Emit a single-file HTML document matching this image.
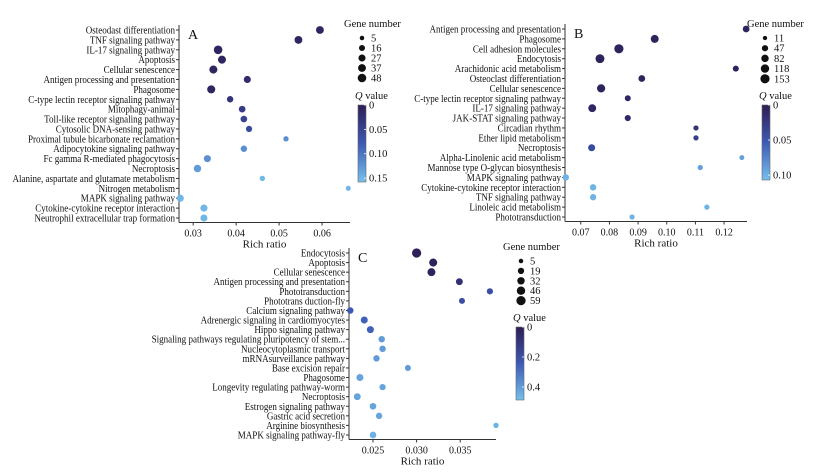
<!DOCTYPE html>
<html><head><meta charset="utf-8"><style>
body{margin:0;background:#fff}
svg{display:block}
text{font-family:"Liberation Serif",serif;fill:#111}
</style></head><body>
<svg id="fig" width="819" height="472" viewBox="0 0 819 472" xmlns="http://www.w3.org/2000/svg">
<defs>
<linearGradient id="qg" x1="0" y1="0" x2="0" y2="1">
<stop offset="0" stop-color="#2e1d55"/><stop offset="0.5" stop-color="#3d5ab4"/><stop offset="1" stop-color="#76c0ec"/>
</linearGradient>
</defs>
</svg>
<script>
// Panel A data
const catsA=["Osteodast differentiation","TNF signaling pathway","IL-17 signaling pathway","Apoptosis","Cellular senescence","Antigen processing and presentation","Phagosome","C-type lectin receptor signaling pathway","Mitophagy-animal","Toll-like receptor signaling pathway","Cytosolic DNA-sensing pathway","Proximal tubule bicarbonate reclamation","Adipocytokine signaling pathway","Fc gamma R-mediated phagocytosis","Necroptosis","Alanine, aspartate and glutamate metabolism","Nitrogen metabolism","MAPK signaling pathway","Cytokine-cytokine receptor interaction","Neutrophil extracellular trap formation"];
const ratioA=[0.0595,0.0545,0.0358,0.0367,0.0347,0.0426,0.0342,0.0386,0.0414,0.0418,0.0430,0.0516,0.0418,0.0333,0.0310,0.0461,0.0661,0.0270,0.0325,0.0325];
const genesA=[37,37,48,40,40,27,40,20,22,22,18,10,20,27,32,10,8,27,27,27];
const qA=[0.01,0.01,0.01,0.01,0.01,0.02,0.01,0.03,0.04,0.05,0.06,0.12,0.12,0.12,0.13,0.15,0.15,0.15,0.15,0.15];
const ticksA=[0.03,0.04,0.05,0.06];
const legA=[5,16,27,37,48];
const qTicksA=[0,0.05,0.10,0.15];
// Panel B data
const catsB=["Antigen processing and presentation","Phagosome","Cell adhesion molecules","Endocytosis","Arachidonic acid metabolism","Osteoclast differentiation","Cellular senescence","C-type lectin receptor signaling pathway","IL-17 signaling pathway","JAK-STAT signaling pathway","Circadian rhythm","Ether lipid metabolism","Necroptosis","Alpha-Linolenic acid metabolism","Mannose type O-glycan biosynthesis","MAPK signaling pathway","Cytokine-cytokine receptor interaction","TNF signaling pathway","Linoleic acid metabolism","Phototransduction"];
const ratioB=[0.1277,0.0958,0.0833,0.0767,0.1241,0.0913,0.0771,0.0864,0.0740,0.0864,0.1102,0.1102,0.0738,0.1262,0.1117,0.0648,0.0743,0.0743,0.1140,0.0879];
const genesB=[60,100,153,140,40,60,110,40,100,45,25,25,70,20,25,50,50,50,25,25];
const qB=[0.005,0.005,0.005,0.005,0.005,0.005,0.005,0.008,0.008,0.01,0.02,0.03,0.04,0.09,0.09,0.10,0.10,0.10,0.10,0.10];
const ticksB=[0.07,0.08,0.09,0.10,0.11,0.12];
const legB=[11,47,82,118,153];
const qTicksB=[0,0.05,0.10];
// Panel C data
const catsC=["Endocytosis","Apoptosis","Cellular senescence","Antigen processing and presentation","Phototransduction","Phototrans duction-fly","Calcium signaling pathway","Adrenergic signaling in cardiomyocytes","Hippo signaling pathway","Signaling pathways regulating pluripotency of stem...","Nucleocytoplasmic transport","mRNAsurveillance pathway","Base excision repair","Phagosome","Longevity regulating pathway-worm","Necroptosis","Estrogen signaling pathway","Gastric acid secretion","Arginine biosynthesis","MAPK signaling pathway-fly"];
const ratioC=[0.0300,0.0319,0.0317,0.0349,0.0384,0.0352,0.0224,0.0240,0.0247,0.0260,0.0261,0.0254,0.0290,0.0235,0.0261,0.0232,0.0250,0.0257,0.0391,0.0250];
const genesC=[59,40,40,25,18,16,20,27,27,20,20,20,16,27,18,25,22,20,10,22];
const qC=[0.01,0.02,0.02,0.08,0.2,0.2,0.24,0.26,0.26,0.4,0.4,0.4,0.4,0.42,0.42,0.42,0.42,0.42,0.45,0.45];
const ticksC=[0.025,0.030,0.035];
const legC=[5,19,32,46,59];
const qTicksC=[0,0.2,0.4];

const NS="http://www.w3.org/2000/svg";
const svg=document.getElementById('fig');
function mk(tag,attrs,parent){const e=document.createElementNS(NS,tag);for(const k in attrs)e.setAttribute(k,attrs[k]);(parent||svg).appendChild(e);return e;}
function lerp(a,b,t){return a+(b-a)*t;}
function qColor(t){t=Math.max(0,Math.min(1,t));const s=[[46,29,85],[61,90,180],[118,192,236]];let a,b,u;if(t<0.5){a=s[0];b=s[1];u=t*2;}else{a=s[1];b=s[2];u=(t-0.5)*2;}return `rgb(${Math.round(lerp(a[0],b[0],u))},${Math.round(lerp(a[1],b[1],u))},${Math.round(lerp(a[2],b[2],u))})`;}

function panel(p){
  const g=mk('g',{});
  
  
  const xs=v=>p.x0+(v-p.v0)/(p.v1-p.v0)*(p.x1-p.x0);
  const ys=i=>p.y0+i*(p.y1-p.y0)/(p.cats.length-1);
  const ybot=p.y1+4.5;
  const rmax=p.rmax, nmax=p.nmax;
  const rs=n=>1.3+(rmax-1.3)*Math.sqrt(n/nmax);
  const ay=mk('line',{x1:p.x0,y1:p.y0-5,x2:p.x0,y2:ybot,stroke:'#333','stroke-width':1},g);
  
  const ax=mk('line',{x1:p.x0,y1:ybot,x2:p.x1,y2:ybot,stroke:'#333','stroke-width':1},g);
  
  p.cats.forEach((c,i)=>{
    const y=ys(i);
    mk('line',{x1:p.x0-3,y1:y,x2:p.x0,y2:y,stroke:'#333','stroke-width':1},g);
    const t=mk('text',{transform:`translate(${p.x0-4},${y+3.5}) scale(0.86,1)`,'text-anchor':'end','font-size':10.5},g);
    t.textContent=c;
    
    
  });
  p.ticks.forEach(v=>{
    const x=xs(v);
    mk('line',{x1:x,y1:ybot,x2:x,y2:ybot+3,stroke:'#333','stroke-width':1},g);
    const t=mk('text',{x:x,y:ybot+14,'text-anchor':'middle','font-size':10},g);
    t.textContent=p.tickFmt(v);
    
    
  });
  const xt=mk('text',{x:(p.x0+p.x1)/2,y:ybot+25,'text-anchor':'middle','font-size':11},g);
  xt.textContent='Rich ratio';
  
  
  const lt=mk('text',{x:p.x0+9,y:p.y0+9,'font-size':14},g);
  lt.textContent=p.id.toUpperCase();
  
  
  p.ratio.forEach((v,i)=>{
    const c=mk('circle',{cx:xs(v),cy:ys(i),r:rs(p.genes[i]),fill:qColor(p.q[i]/p.qmax)},g);
    
    
  });
  const gt=mk('text',{x:p.lx-18,y:p.ly-3,'font-size':10.5},g);
  gt.textContent='Gene number';
  
  
  p.leg.forEach((n,i)=>{
    const y=p.ly+8+i*p.lsp;
    const c=mk('circle',{cx:p.lx,cy:y,r:rs(n),fill:'#111'},g);
    
    
    const t=mk('text',{x:p.lx+9,y:y+3.5,'font-size':10.5},g);
    t.textContent=n;
    
    
  });
  const qt=mk('text',{x:p.cx-3,y:p.cy-6,'font-size':10.5},g);
  qt.innerHTML='<tspan font-style="italic">Q</tspan> value';
  
  
  const r=mk('rect',{x:p.cx,y:p.cy,width:8,height:p.ch,fill:'url(#qg)',stroke:'#666','stroke-width':0.6},g);
  
  
  p.qTicks.forEach(v=>{
    const y=p.cy+v/p.qmax*p.ch;
    mk('line',{x1:p.cx+6,y1:y,x2:p.cx+8,y2:y,stroke:'#fff','stroke-width':0.8},g);
    const t=mk('text',{x:p.cx+11,y:y+3.5,'font-size':10.5},g);
    t.textContent=p.qFmt(v);
    
    
  });
}
panel({id:'a',cats:catsA,ratio:ratioA,genes:genesA,q:qA,ticks:ticksA,leg:legA,qTicks:qTicksA,
  x0:179,x1:350,v0:0.0267,v1:0.0665,y0:30,y1:218,rmax:4.3,nmax:48,qmax:0.158,
  lx:362,ly:30,lsp:10,cx:358,cy:105,ch:77,
  tickFmt:v=>v.toFixed(2),qFmt:v=>v===0?'0':v.toFixed(2)});
panel({id:'b',cats:catsB,ratio:ratioB,genes:genesB,q:qB,ticks:ticksB,leg:legB,qTicks:qTicksB,
  x0:565,x1:747,v0:0.0645,v1:0.128,y0:29,y1:217,rmax:4.6,nmax:153,qmax:0.107,
  lx:765,ly:30,lsp:10.2,cx:762,cy:105,ch:75,
  tickFmt:v=>v.toFixed(2),qFmt:v=>v===0?'0':v.toFixed(2)});
panel({id:'c',cats:catsC,ratio:ratioC,genes:genesC,q:qC,ticks:ticksC,leg:legC,qTicks:qTicksC,
  x0:349,x1:496,v0:0.02225,v1:0.0391,y0:253,y1:435,rmax:4.6,nmax:59,qmax:0.487,
  lx:521,ly:253,lsp:9.9,cx:516,cy:327,ch:73,
  tickFmt:v=>v.toFixed(3),qFmt:v=>v===0?'0':v.toFixed(1)});
</script>
</body></html>
